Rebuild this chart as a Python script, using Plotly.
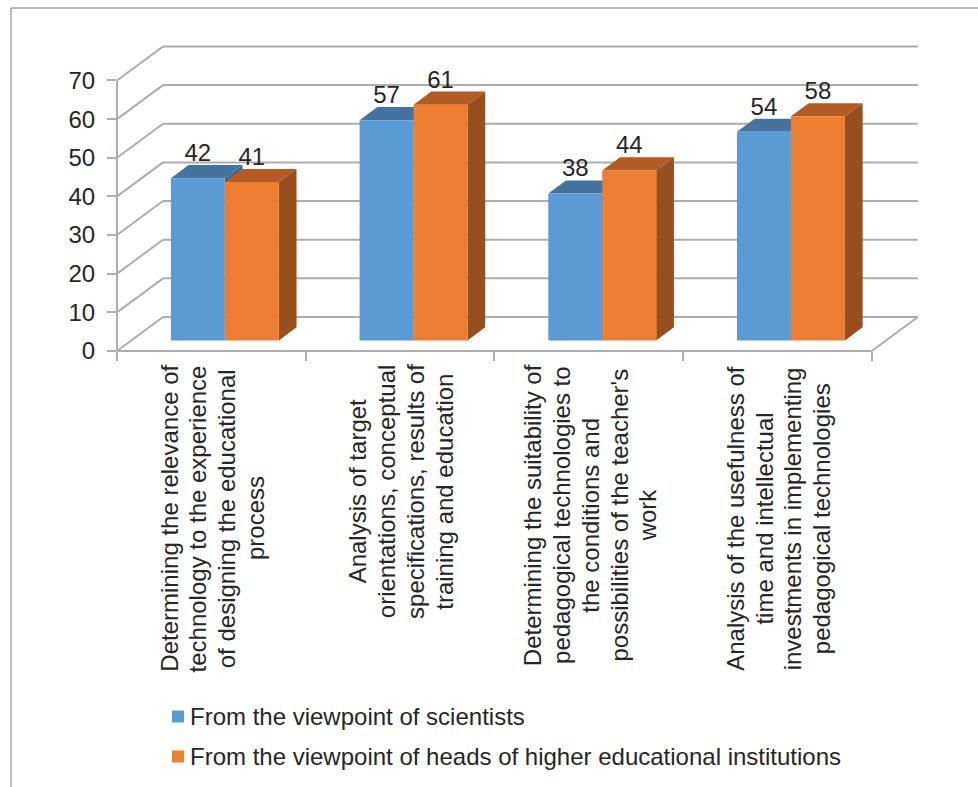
import plotly.graph_objects as go

# Survey results per criterion
categories = [
    ["Determining the relevance of", "technology to the experience", "of designing the educational", "process"],
    ["Analysis of target", "orientations, conceptual", "specifications, results of", "training and education"],
    ["Determining the suitability of", "pedagogical technologies to", "the conditions and", "possibilities of the teacher's", "work"],
    ["Analysis of the usefulness of", "time and intellectual", "investments in implementing", "pedagogical technologies"],
]
series_names = ["From the viewpoint of scientists", "From the viewpoint of heads of higher educational institutions"]
scientists = [42, 57, 38, 54]
heads = [41, 61, 44, 58]
value_ticks = [0, 10, 20, 30, 40, 50, 60, 70]

FRONT_COLORS = ["#5B9BD5", "#ED7D31"]
TOP_COLORS = ["#44739F", "#B25B22"]
SIDE_COLORS = ["#3A6A94", "#964F1D"]
GRID = "#ADADAD"
TEXT = "#262626"
FONT = "Liberation Sans"
W, H = 978, 787

# Plot area in pixels, and the oblique shift of the back wall
LEFT, RIGHT, TOP, BOTTOM = 117, 918, 45, 351
SLOT = 188.7             # pixels per category
UNIT = 3.865             # pixels per value unit
DEPTH_X = 46 / SLOT      # category units
DEPTH_Y = 34 / UNIT      # value units
BAR_W = 0.286
BAR_FRONT, BAR_BACK = 0.31, 0.695   # fractions of the floor depth
BAR_NUDGE = -0.004       # small sideways offset of the column groups

x_range = [0, (RIGHT - LEFT) / SLOT]
y_range = [0, (BOTTOM - TOP) / UNIT]


def px(x):
    return (x - x_range[0]) / (x_range[1] - x_range[0])


def py(y):
    return (y - y_range[0]) / (y_range[1] - y_range[0])


def line(x0, y0, x1, y1):
    return dict(type="line", xref="paper", yref="paper", layer="below",
                x0=px(x0), y0=py(y0), x1=px(x1), y1=py(y1),
                line=dict(color=GRID, width=2))


def polygon(points, color):
    path = "M" + " L".join(f"{x},{y}" for x, y in points) + " Z"
    return dict(type="path", xref="x", yref="y", layer="below", path=path,
                fillcolor=color, line=dict(width=0))


shapes = []

# Wall gridlines: a slanted run on the side wall, then across the back wall
for v in value_ticks:
    shapes.append(line(0, v, DEPTH_X, v + DEPTH_Y))
    shapes.append(line(DEPTH_X, v + DEPTH_Y, 4 + DEPTH_X, v + DEPTH_Y))
# Floor edges and the value axis
shapes.append(line(0, 0, 4, 0))
shapes.append(line(4, 0, 4 + DEPTH_X, DEPTH_Y))
shapes.append(line(0, 0, 0, value_ticks[-1]))

# Top and right faces of each column, blue first so the orange one overlaps it
base = BAR_FRONT * DEPTH_Y
run_x = (BAR_BACK - BAR_FRONT) * DEPTH_X
run_y = (BAR_BACK - BAR_FRONT) * DEPTH_Y
for i in range(len(categories)):
    for s, values in enumerate([scientists, heads]):
        x0 = i + 0.5 + BAR_NUDGE + BAR_FRONT * DEPTH_X + (s - 1) * BAR_W
        x1 = x0 + BAR_W
        top = base + values[i]
        shapes.append(polygon([(x0, top), (x1, top), (x1 + run_x, top + run_y), (x0 + run_x, top + run_y)],
                              TOP_COLORS[s]))
        shapes.append(polygon([(x1, base), (x1 + run_x, base + run_y), (x1 + run_x, top + run_y), (x1, top)],
                              SIDE_COLORS[s]))

fig = go.Figure()

# Front faces and their value labels
for s, values in enumerate([scientists, heads]):
    centers = [i + 0.5 + BAR_NUDGE + BAR_FRONT * DEPTH_X + (s - 0.5) * BAR_W for i in range(len(categories))]
    fig.add_trace(go.Bar(x=centers, y=values, base=[base] * len(values), width=BAR_W,
                         marker=dict(color=FRONT_COLORS[s], line=dict(width=0)),
                         name=series_names[s], showlegend=False, hoverinfo="skip"))
    fig.add_trace(go.Scatter(x=centers, y=[v + base + run_y * 0.85 for v in values], mode="text",
                             text=[str(v) for v in values], textposition="top center",
                             textfont=dict(family=FONT, size=24, color=TEXT),
                             showlegend=False, hoverinfo="skip", cliponaxis=False))

# Rotated category labels, one annotation per line for the wide line pitch
annotations = []
LINE_PITCH = 28.8
LABEL_LENGTHS = [307, 253, 300, 307]   # longest line of each label, in pixels
for i, lines in enumerate(categories):
    for j, t in enumerate(lines):
        annotations.append(dict(
            text=t, x=i + 0.5, y=0, xref="x", yref="y", showarrow=False, textangle=-90,
            xanchor="center", yanchor="middle",
            xshift=1 + (j - (len(lines) - 1) / 2) * LINE_PITCH,
            yshift=-(14 + LABEL_LENGTHS[i] / 2),
            font=dict(family=FONT, size=24, color=TEXT)))

# Legend rows with small square swatches
fw = RIGHT - LEFT
fh = BOTTOM - TOP
for s, (name, cy) in enumerate(zip(series_names, [716.5, 756.5])):
    shapes.append(dict(type="rect", xref="paper", yref="paper",
                       x0=(172 - LEFT) / fw, x1=(184 - LEFT) / fw,
                       y0=(BOTTOM - cy - 6) / fh, y1=(BOTTOM - cy + 6) / fh,
                       fillcolor=FRONT_COLORS[s], line=dict(width=0)))
    annotations.append(dict(text=name, xref="paper", yref="paper", showarrow=False,
                            x=(190 - LEFT) / fw, y=(BOTTOM - cy) / fh,
                            xanchor="left", yanchor="middle", xshift=-2,
                            font=dict(family=FONT, size=24, color=TEXT)))

# Outer frame: left and top edges only
shapes.append(dict(type="line", xref="paper", yref="paper",
                   x0=(11 - LEFT) / fw, x1=(11 - LEFT) / fw, y0=(BOTTOM - 8) / fh, y1=(BOTTOM - H) / fh,
                   line=dict(color="#A6A6A6", width=1.5)))
shapes.append(dict(type="line", xref="paper", yref="paper",
                   x0=(11 - LEFT) / fw, x1=(W - LEFT) / fw, y0=(BOTTOM - 8) / fh, y1=(BOTTOM - 8) / fh,
                   line=dict(color="#A6A6A6", width=1.5)))

fig.update_layout(
    width=W, height=H, autosize=False,
    margin=dict(l=LEFT, r=W - RIGHT, t=TOP, b=H - BOTTOM, pad=0),
    paper_bgcolor="white", plot_bgcolor="white",
    showlegend=False, barmode="overlay",
    shapes=shapes, annotations=annotations,
    xaxis=dict(range=x_range, tickmode="array", tickvals=[0, 1, 2, 3, 4], showticklabels=False,
               ticks="outside", ticklen=9, tickwidth=1.5, tickcolor=GRID,
               showgrid=False, zeroline=False, showline=False, fixedrange=True),
    yaxis=dict(range=y_range, tickmode="array", tickvals=value_ticks, ticks="outside",
               ticklen=9, tickwidth=1.5, tickcolor=GRID, ticklabelstandoff=7,
               tickfont=dict(family=FONT, size=24, color=TEXT),
               showgrid=False, zeroline=False, showline=False, fixedrange=True),
)

fig.write_html("out.html", config=dict(displayModeBar=False))
